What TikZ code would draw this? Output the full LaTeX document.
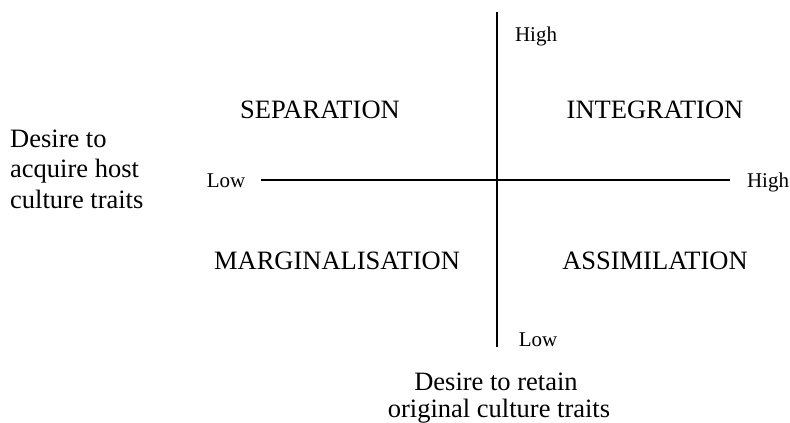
\documentclass[tikz,border=0pt]{standalone}
\usepackage{fontspec}
\setmainfont{Liberation Serif}
\begin{document}
\begin{tikzpicture}[x=1pt,y=-1pt,
  big/.style={font=\fontsize{26.5}{31}\selectfont, inner sep=0pt},
  small/.style={font=\fontsize{21}{24}\selectfont, inner sep=0pt},
  axis/.style={line width=1.7pt}]
\useasboundingbox (0,0) rectangle (790,423);
% axes
\coordinate (vt) at (497,12);
\coordinate (vb) at (497,347);
\coordinate (hl) at (261,180);
\coordinate (hr) at (730,180);
\draw[axis] (vt) -- (vb);
\draw[axis] (hl) -- (hr);
% axis end labels
\node[small, anchor=base] (hightop) at (536,41) {High};
\node[small, anchor=base] (lowleft) at (226,187) {Low};
\node[small, anchor=base] (highright) at (768,187) {High};
\node[small, anchor=base] (lowbottom) at (538,346) {Low};
% quadrant labels
\node[big, anchor=base] (sep) at (320,118) {SEPARATION};
\node[big, anchor=base] (int) at (655,118) {INTEGRATION};
\node[big, anchor=base] (mar) at (337,269) {MARGINALISATION};
\node[big, anchor=base] (ass) at (655,269) {ASSIMILATION};
% left axis title
\node[big, anchor=base west] (l1) at (10,147) {Desire to};
\node[big, anchor=base west] (l2) at (10,177) {acquire host};
\node[big, anchor=base west] (l3) at (10,208) {culture traits};
% bottom axis title
\node[big, anchor=base] (b1) at (496,390) {Desire to retain};
\node[big, anchor=base] (b2) at (499,417) {original culture traits};
\end{tikzpicture}
\end{document}
